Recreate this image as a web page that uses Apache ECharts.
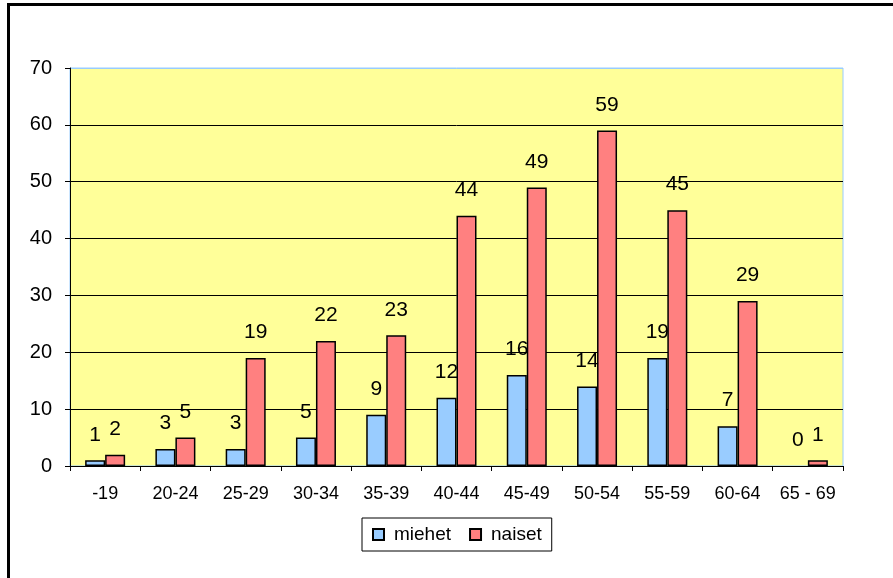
<!DOCTYPE html>
<html>
<head>
<meta charset="utf-8">
<script src="https://cdn.jsdelivr.net/npm/echarts@6/dist/echarts.min.js"></script>
<style>
  html, body { margin: 0; padding: 0; background: #fff; }
  #chart { width: 893px; height: 578px; }
</style>
</head>
<body>
<div id="chart"></div>
<script>
// Age groups and head counts per group
const ageGroups = ['-19', '20-24', '25-29', '30-34', '35-39', '40-44', '45-49', '50-54', '55-59', '60-64', '65 - 69'];
const miehet = [1, 3, 3, 5, 9, 12, 16, 14, 19, 7, 0];
const naiset = [2, 5, 19, 22, 23, 44, 49, 59, 45, 29, 1];
const yTicks = { min: 0, max: 70, interval: 10 };

const FONT = '"Liberation Sans", Arial, sans-serif';

const chart = echarts.init(document.getElementById('chart'), null, { renderer: 'canvas' });

function barSeries(name, values, color) {
  // a zero-height bar keeps its label but draws no outline
  const data = values.map(v => v === 0 ? { value: v, itemStyle: { borderWidth: 0, color: 'rgba(0,0,0,0)' } } : v);
  return {
    name: name,
    type: 'bar',
    data: data,
    barWidth: 20,
    barGap: '0%',
    itemStyle: { color: color, borderColor: '#000', borderWidth: 1.5 },
    label: {
      show: true,
      position: 'top',
      distance: 15,
      color: '#000',
      fontFamily: FONT,
      fontSize: 21
    }
  };
}

chart.setOption({
  animation: false,
  backgroundColor: '#fff',
  textStyle: { fontFamily: FONT },
  grid: {
    left: 70, right: 50, top: 68, bottom: 112,
    show: true,
    backgroundColor: '#FFFF99',
    borderColor: '#99CCFF',
    borderWidth: 1
  },
  xAxis: {
    type: 'category',
    data: ageGroups,
    axisLine: { lineStyle: { color: '#000', width: 1 } },
    axisTick: { show: true, length: 5, lineStyle: { color: '#000' } },
    axisLabel: { color: '#000', fontSize: 18, margin: 19, fontFamily: FONT, interval: 0 }
  },
  yAxis: {
    type: 'value',
    min: yTicks.min,
    max: yTicks.max,
    interval: yTicks.interval,
    axisLine: { show: true, lineStyle: { color: '#000', width: 1 } },
    axisTick: { show: true, length: 5, lineStyle: { color: '#000' } },
    axisLabel: { color: '#000', fontSize: 20, margin: 18, fontFamily: FONT },
    splitLine: {
      show: true,
      lineStyle: {
        color: ['#000', '#000', '#000', '#000', '#000', '#000', '#000', '#99CCFF'],
        width: 1
      }
    }
  },
  legend: {
    left: 362,
    top: 518,
    orient: 'horizontal',
    backgroundColor: '#fff',
    borderColor: '#000',
    borderWidth: 1,
    borderRadius: 0,
    padding: [7, 10, 7, 10],
    itemWidth: 11,
    itemHeight: 11,
    itemGap: 18,
    icon: 'rect',
    textStyle: { color: '#000', fontSize: 19, fontFamily: FONT, padding: [0, 0, 0, 5] },
    data: ['miehet', 'naiset']
  },
  graphic: [{
    type: 'rect',
    shape: { x: 8.5, y: 4.5, width: 910, height: 600 },
    style: { fill: null, stroke: '#000', lineWidth: 3 },
    silent: true,
    z: 100
  }],
  series: [
    barSeries('miehet', miehet, '#99CCFF'),
    barSeries('naiset', naiset, '#FF8080')
  ]
});
</script>
</body>
</html>
